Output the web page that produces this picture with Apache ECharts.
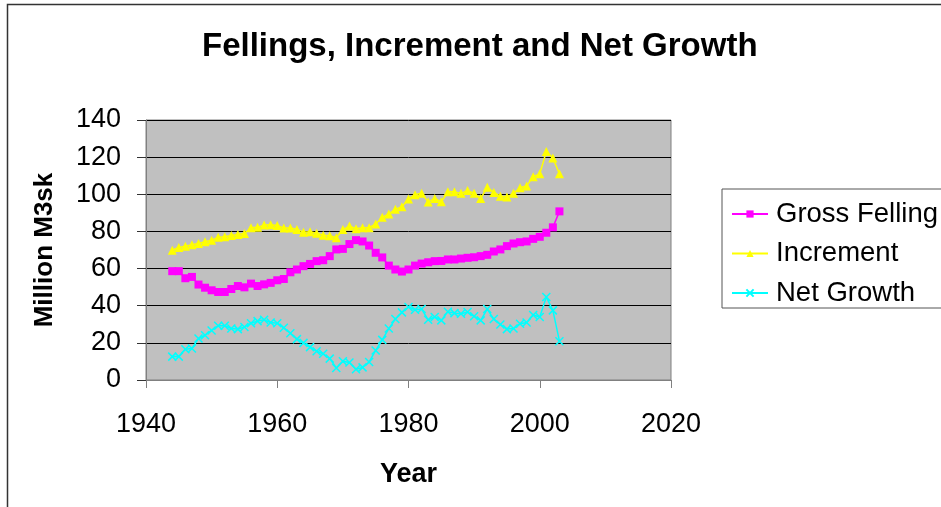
<!DOCTYPE html>
<html>
<head>
<meta charset="utf-8">
<script src="https://cdn.jsdelivr.net/npm/echarts@6/dist/echarts.min.js"></script>
<style>
  html, body { margin: 0; padding: 0; background: #fff; }
  #chart { width: 941px; height: 507px; }
</style>
</head>
<body>
<div id="chart"></div>
<script>
var years = [];
for (var y = 1944; y <= 2003; y++) years.push(y);

var grossFelling = [58.6, 58.6, 54.8, 55.5, 51.4, 49.7, 48.3, 47.4, 47.4, 49.0,
  50.6, 49.9, 51.9, 50.6, 51.5, 52.3, 53.7, 54.4, 58.0, 59.5,
  61.3, 62.5, 64.0, 64.5, 66.7, 70.3, 70.6, 73.2, 75.3, 74.6,
  72.4, 68.5, 66.0, 61.6, 59.5, 58.4, 59.5, 61.6, 62.7, 63.4,
  64.0, 64.1, 64.9, 64.9, 65.4, 65.8, 66.1, 66.7, 67.4, 69.2,
  70.3, 72.1, 73.5, 74.2, 74.6, 76.0, 77.1, 79.3, 82.2, 90.8];

var increment = [69.9, 71.4, 72.0, 72.8, 73.5, 74.4, 75.3, 76.8, 77.1, 77.8,
  78.4, 78.9, 82.0, 82.2, 83.4, 83.6, 83.2, 81.8, 81.8, 81.1,
  79.6, 79.8, 79.0, 78.0, 77.7, 76.6, 81.0, 82.9, 81.4, 82.0,
  82.0, 84.0, 87.6, 89.4, 91.9, 93.3, 97.5, 99.8, 100.5, 95.9,
  97.7, 96.0, 101.3, 101.3, 100.5, 102.0, 100.5, 97.7, 103.8, 101.0,
  99.0, 98.5, 100.5, 103.5, 104.5, 109.5, 111.0, 123.0, 119.5, 111.0];

var netGrowth = [12.6, 12.6, 16.6, 17.0, 22.3, 24.1, 26.7, 29.2, 29.2, 27.7,
  27.4, 28.5, 30.6, 31.7, 32.4, 31.0, 30.6, 28.1, 25.2, 22.0,
  20.0, 17.7, 15.5, 14.1, 11.5, 6.5, 10.1, 9.4, 5.8, 6.8,
  9.7, 15.9, 21.6, 27.7, 32.8, 36.4, 39.3, 37.8, 38.2, 32.4,
  33.9, 32.1, 36.8, 36.0, 35.7, 36.6, 34.3, 32.1, 38.2, 32.8,
  29.9, 27.4, 27.7, 30.3, 31.0, 35.0, 33.9, 44.7, 37.5, 20.9];

function pairs(vals) {
  return years.map(function (yr, i) { return [yr, vals[i]]; });
}

var font = 'Arial, "Liberation Sans", sans-serif';
var chart = echarts.init(document.getElementById('chart'));

chart.setOption({
  animation: false,
  backgroundColor: '#ffffff',
  textStyle: { fontFamily: font, color: '#000' },
  graphic: [{
    type: 'rect',
    shape: { x: 7.5, y: 4.5, width: 1000, height: 1000 },
    style: { fill: 'none', stroke: '#333', lineWidth: 1.5 },
    silent: true
  }],
  title: {
    text: 'Fellings, Increment and Net Growth',
    left: 202,
    top: 30,
    padding: 0,
    textStyle: { fontFamily: font, fontSize: 33, fontWeight: 'bold', color: '#000' }
  },
  grid: {
    left: 146, top: 120, width: 525, height: 260,
    show: true,
    backgroundColor: '#C0C0C0',
    borderColor: '#808080',
    borderWidth: 1
  },
  legend: {
    orient: 'vertical',
    left: 722,
    top: 189,
    padding: [11, 40, 1, 9],
    itemWidth: 36,
    itemHeight: 9,
    itemGap: 11.5,
    borderColor: '#555',
    borderWidth: 1,
    backgroundColor: '#fff',
    textStyle: { fontFamily: font, fontSize: 27.5, color: '#000', padding: [0, 0, 0, 3] },
    data: ['Gross Felling', 'Increment', 'Net Growth']
  },
  xAxis: {
    type: 'value',
    min: 1940, max: 2020, interval: 20,
    name: 'Year',
    nameLocation: 'middle',
    nameGap: 81,
    nameTextStyle: { fontFamily: font, fontSize: 27, fontWeight: 'bold', color: '#000' },
    axisLine: { show: true, lineStyle: { color: '#808080', width: 1 } },
    axisTick: { show: true, length: 8, lineStyle: { color: '#808080' } },
    axisLabel: {
      margin: 31, fontFamily: font, fontSize: 27, color: '#000',
      formatter: function (v) { return String(v); }
    },
    splitLine: { show: false }
  },
  yAxis: {
    type: 'value',
    min: 0, max: 140, interval: 20,
    name: 'Million M3sk',
    nameLocation: 'middle',
    nameRotate: 90,
    nameGap: 88,
    nameTextStyle: { fontFamily: font, fontSize: 26, fontWeight: 'bold', color: '#000' },
    axisLine: { show: true, lineStyle: { color: '#808080', width: 1 } },
    axisTick: { show: true, length: 9, lineStyle: { color: '#333' } },
    axisLabel: { margin: 25, fontFamily: font, fontSize: 27, color: '#000' },
    splitLine: { show: true, lineStyle: { color: '#000', width: 1 } }
  },
  series: [{
    name: 'Gross Felling',
    type: 'line',
    data: pairs(grossFelling),
    symbol: 'rect',
    symbolSize: 8,
    showAllSymbol: true,
    lineStyle: { color: '#FF00FF', width: 1.5 },
    itemStyle: { color: '#FF00FF' }
  }, {
    name: 'Increment',
    type: 'line',
    data: pairs(increment),
    symbol: 'triangle',
    symbolSize: 9,
    showAllSymbol: true,
    lineStyle: { color: '#FFFF00', width: 1.5 },
    itemStyle: { color: '#FFFF00' }
  }, {
    name: 'Net Growth',
    type: 'line',
    data: pairs(netGrowth),
    symbol: 'path://M0,0L10,10M10,0L0,10',
    symbolSize: 8,
    showAllSymbol: true,
    lineStyle: { color: '#00FFFF', width: 1.5 },
    itemStyle: { color: '#00FFFF', borderColor: '#00FFFF', borderWidth: 1.5 }
  }]
});
</script>
</body>
</html>
